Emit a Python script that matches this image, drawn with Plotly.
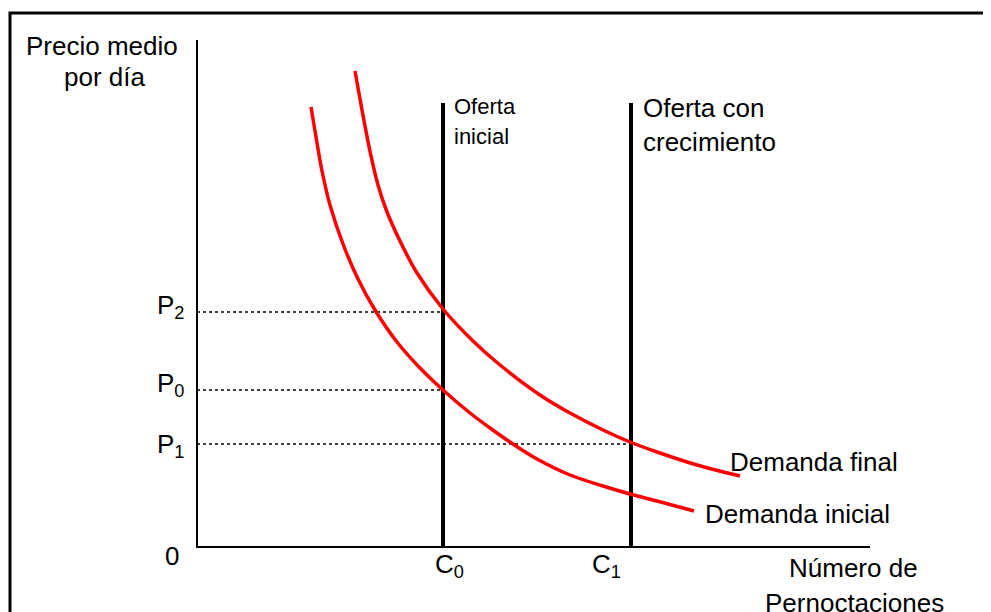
import plotly.graph_objects as go

# quantity (x) and price (y) in chart units, origin at the axes corner
demanda_inicial_q = [114, 119, 125, 133, 146, 161, 178, 200, 223, 246, 273, 293, 313, 340, 373, 406, 433, 460, 497]
demanda_inicial_p = [440, 410, 376, 342, 303, 268, 237, 205, 179, 157, 134, 119, 105, 88, 72, 61, 53, 46, 36]

demanda_final_q = [158, 163, 168, 174, 181, 190, 203, 220, 246, 276, 303, 346, 373, 406, 433, 460, 500, 543]
demanda_final_p = [476, 448, 421, 391, 362, 335, 306, 274, 238, 206, 182, 150, 134, 117, 105, 95, 82, 71]

oferta_q = {'C<sub>0</sub>': 246, 'C<sub>1</sub>': 434}
oferta_top = 444

precios = {'P<sub>2</sub>': 235, 'P<sub>0</sub>': 157, 'P<sub>1</sub>': 103}
precio_hasta = {'P<sub>2</sub>': 246, 'P<sub>0</sub>': 246, 'P<sub>1</sub>': 434}

eje_x_max = 673
eje_y_max = 507

FONT = "Liberation Sans, Arial, sans-serif"

fig = go.Figure()

# axes
fig.add_trace(go.Scatter(x=[0, 0, eje_x_max], y=[eje_y_max, 0, 0], mode='lines',
                         line={'color': 'black', 'width': 2}, showlegend=False, hoverinfo='skip'))

# dotted price guides
for k, p in precios.items():
    fig.add_trace(go.Scatter(x=[0, precio_hasta[k]], y=[p, p], mode='lines',
                             line={'color': 'black', 'width': 1.5, 'dash': 'dot'},
                             showlegend=False, hoverinfo='skip'))

# supply lines
for k, q in oferta_q.items():
    fig.add_trace(go.Scatter(x=[q, q], y=[0, oferta_top], mode='lines',
                             line={'color': 'black', 'width': 4}, showlegend=False, hoverinfo='skip'))

# demand curves
fig.add_trace(go.Scatter(x=demanda_inicial_q, y=demanda_inicial_p, mode='lines',
                         line={'color': '#FF0000', 'width': 3.5, 'shape': 'spline'},
                         showlegend=False, hoverinfo='skip'))
fig.add_trace(go.Scatter(x=demanda_final_q, y=demanda_final_p, mode='lines',
                         line={'color': '#FF0000', 'width': 3.5, 'shape': 'spline'},
                         showlegend=False, hoverinfo='skip'))


def label(text, x, y, xanchor='center', size=26):
    fig.add_annotation(x=x, y=y, text=text, showarrow=False, xanchor=xanchor, yanchor='middle',
                       font={'family': FONT, 'size': size, 'color': 'black'})


label('Precio medio', -95, 501)
label('por día', -93, 470)
label('Oferta', 255, 441, xanchor='left', size=22)
label('inicial', 255, 411, xanchor='left', size=22)
label('Oferta con', 444, 439, xanchor='left')
label('crecimiento', 444, 405, xanchor='left')
label('P<sub>2</sub>', -11, 241, xanchor='right')
label('P<sub>0</sub>', -11, 163, xanchor='right')
label('P<sub>1</sub>', -11, 102, xanchor='right')
label('0', -25, -9)
label('C<sub>0</sub>', 252, -18)
label('C<sub>1</sub>', 409, -18)
label('Demanda final', 531, 85, xanchor='left')
label('Demanda inicial', 506, 33, xanchor='left')
label('Número de', 656, -21)
label('Pernoctaciones', 657, -56)

# frame around the picture (page body has an 8px margin)
fig.add_shape(type='rect', xref='paper', yref='paper', x0=2 / 991, x1=1.05, y0=-0.05, y1=1 - 5 / 612,
              line={'color': 'black', 'width': 3})

fig.update_xaxes(range=[-189, 802], visible=False)
fig.update_yaxes(range=[-73, 539], visible=False)
fig.update_layout(width=991, height=612, margin=dict(l=0, r=0, t=0, b=0),
                  plot_bgcolor='white', paper_bgcolor='white',
                  font={'family': FONT})

fig.write_html("out.html")
